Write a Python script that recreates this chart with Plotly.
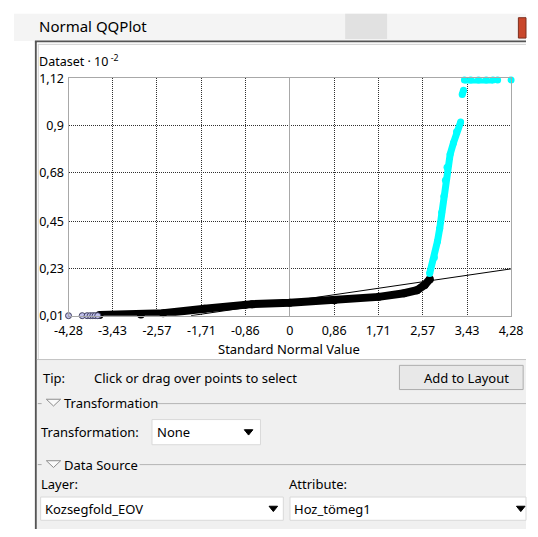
import plotly.graph_objects as go

# ---------------- data ----------------
x_ticks = [-4.28, -3.43, -2.57, -1.71, -0.86, 0, 0.86, 1.71, 2.57, 3.43, 4.28]
x_labels = ["-4,28", "-3,43", "-2,57", "-1,71", "-0,86", "0", "0,86", "1,71", "2,57", "3,43", "4,28"]
y_ticks = [0.01, 0.23, 0.45, 0.68, 0.9, 1.12]
y_labels = ["0,01", "0,23", "0,45", "0,68", "0,9", "1,12"]

# reference line
ref_x = [-1.91, 4.28]
ref_y = [0.01, 0.229]

# low outliers (hollow, selected-style points)
low_x = [-4.28, -4.015, -3.92, -3.86, -3.81, -3.765, -3.715]
low_y = [0.01, 0.01, 0.01, 0.01, 0.01, 0.01, 0.01]

# main body of the distribution (black)
black_x = [-3.68, -2.88, -2.45, -1.65, -0.86, -0.73, 0.0, 0.86, 1.72, 2.21, 2.46, 2.61, 2.71]
black_y = [0.013, 0.015, 0.021, 0.042, 0.061, 0.064, 0.071, 0.082, 0.098, 0.115, 0.129, 0.154, 0.181]

# upper tail (cyan)
cyan_x = [2.705, 2.797, 2.857, 2.90, 2.937, 2.98, 3.01, 3.041, 3.102, 3.165, 3.225, 3.305]
cyan_y = [0.207, 0.282, 0.358, 0.418, 0.493, 0.569, 0.644, 0.705, 0.765, 0.818, 0.871, 0.916]
gap_x = [3.335, 3.36]
gap_y = [1.045, 1.065]
top_x = [3.378, 3.5, 3.65, 3.8, 3.93]
top_y = [1.113, 1.113, 1.113, 1.113, 1.113]
top_single_x = [4.02, 4.28]
top_single_y = [1.113, 1.113]

# ---------------- geometry helpers ----------------
W, H = 538, 537
FONT = "Segoe UI, Noto Sans, Open Sans, sans-serif"


def px(x):
    return x / W


def py(y):
    return 1 - y / H


shapes = []
annotations = []


def rect(x0, y0, x1, y1, fill, line=None, lw=1, layer="below", opacity=1):
    shapes.append(dict(type="rect", xref="paper", yref="paper",
                       x0=px(x0), x1=px(x1), y0=py(y0), y1=py(y1),
                       fillcolor=fill, opacity=opacity,
                       line=dict(color=line or fill, width=lw if line else 0),
                       layer=layer))


def hline(x0, x1, y, color, lw=1, layer="below"):
    shapes.append(dict(type="line", xref="paper", yref="paper",
                       x0=px(x0), x1=px(x1), y0=py(y), y1=py(y),
                       line=dict(color=color, width=lw), layer=layer))


def vline(x, y0, y1, color, lw=1, layer="below"):
    shapes.append(dict(type="line", xref="paper", yref="paper",
                       x0=px(x), x1=px(x), y0=py(y0), y1=py(y1),
                       line=dict(color=color, width=lw), layer=layer))


def tri(x0, x1, ytop, ybot, fill, line, layer="above"):
    xm = (x0 + x1) / 2
    path = "M {a},{b} L {c},{d} L {e},{f} Z".format(
        a=px(x0), b=py(ytop), c=px(x1), d=py(ytop), e=px(xm), f=py(ybot))
    shapes.append(dict(type="path", xref="paper", yref="paper", path=path,
                       fillcolor=fill, line=dict(color=line, width=1), layer=layer))


def text(x, y, s, size=13, anchor="left", color="#000000"):
    annotations.append(dict(xref="paper", yref="paper", x=px(x), y=py(y),
                            text=s, showarrow=False, xanchor=anchor, yanchor="middle",
                            borderpad=0,
                            font=dict(family=FONT, size=size, color=color)))


# window chrome
rect(0, 0, 538, 33, "#f4f4f4")
rect(0, 0, 538, 5, "#ffffff")
rect(348, 5, 392, 31, "#d9d9d9", opacity=0.7)
rect(530, 9, 538, 30, "#c9472b", line="#7d2e1d")
hline(22, 538, 33.5, "#555555", 2)
vline(23, 33, 537, "#555555", 2)

# chart area (white) and lower panel (grey)
rect(24, 34.5, 538, 362, "#ffffff")
hline(25, 538, 36.5, "#d0d0d0", 1)
vline(25.5, 36.5, 362, "#d0d0d0", 1)
rect(24, 362, 538, 537, "#f0f0f0")
hline(24, 538, 362, "#c4c4c4", 1)

# button
rect(405, 368, 535, 393, "#e8e8e8", line="#adadad")

# group separators
hline(25, 29, 407.5, "#a8a8a8")
hline(150, 538, 407.5, "#b4b4b4")
tri(34, 49, 403, 410, "#fafafa", "#8c8c8c")
hline(25, 29, 470.5, "#a8a8a8")
hline(132, 538, 470.5, "#b4b4b4")
tri(34, 49, 466.5, 473.5, "#fafafa", "#8c8c8c")

# combo boxes
rect(145, 424, 259, 450, "#ffffff", line="#d9d9d9")
tri(242, 251, 434.5, 440, "#000000", "#000000")
rect(28, 504, 283, 528, "#ffffff", line="#d9d9d9")
tri(268, 277, 513.5, 519, "#000000", "#000000")
rect(290, 504, 538, 528, "#ffffff", line="#d9d9d9")
tri(528, 537, 513.5, 519, "#000000", "#000000")

# texts
text(25, 18, "Normal QQPlot", size=15)
text(25, 54, "Dataset · 10<sup> -2</sup>", size=12.5)
text(289, 351, "Standard Normal Value")
annotations[-1]["xanchor"] = "center"
text(29, 381, "Tip:")
text(83, 381, "Click or drag over points to select")
text(475, 381, "Add to Layout")
annotations[-1]["xanchor"] = "center"
text(51, 407, "Transformation")
text(27, 437, "Transformation:")
text(149, 437, "None")
text(51, 471, "Data Source")
text(27, 491, "Layer:")
text(288, 491, "Attribute:")
text(31, 516, "Kozsegfold_EOV")
text(293, 516, "Hoz_tömeg1")

# ---------------- traces ----------------
fig = go.Figure()
fig.add_trace(go.Scatter(x=ref_x, y=ref_y, mode="lines",
                         line=dict(color="#000000", width=1), hoverinfo="skip"))
fig.add_trace(go.Scatter(x=black_x, y=black_y, mode="lines+markers",
                         line=dict(color="#000000", width=8),
                         marker=dict(color="#000000", size=8), cliponaxis=False))
fig.add_trace(go.Scatter(x=cyan_x, y=cyan_y, mode="lines+markers",
                         line=dict(color="#00ffff", width=7),
                         marker=dict(color="#00ffff", size=7), cliponaxis=False))
fig.add_trace(go.Scatter(x=gap_x, y=gap_y, mode="lines+markers",
                         line=dict(color="#00ffff", width=7),
                         marker=dict(color="#00ffff", size=7), cliponaxis=False))
fig.add_trace(go.Scatter(x=top_x, y=top_y, mode="lines+markers",
                         line=dict(color="#00ffff", width=7),
                         marker=dict(color="#00ffff", size=7), cliponaxis=False))
fig.add_trace(go.Scatter(x=top_single_x, y=top_single_y, mode="markers",
                         marker=dict(color="#00ffff", size=7), cliponaxis=False))
fig.add_trace(go.Scatter(x=low_x, y=low_y, mode="markers",
                         marker=dict(color="#c0c0ec", size=6,
                                     line=dict(color="#404060", width=1)),
                         cliponaxis=False))

axis_common = dict(showgrid=True, gridcolor="#303030", griddash="1px,1px", gridwidth=1,
                   showline=True, mirror=True, linecolor="#a8a8a8", linewidth=1,
                   ticks="", tickfont=dict(family=FONT, size=12.5, color="#000000"),
                   fixedrange=True)

fig.update_layout(
    width=W, height=H,
    margin=dict(l=0, r=0, t=0, b=0),
    paper_bgcolor="#ffffff",
    plot_bgcolor="rgba(0,0,0,0)",
    showlegend=False,
    shapes=shapes,
    annotations=annotations,
    xaxis=dict(range=[-4.28, 4.28], domain=[px(57.3), px(522.3)],
               tickvals=x_ticks, ticktext=x_labels,
               zeroline=True, zerolinecolor="#a8a8a8", zerolinewidth=1,
               ticklabelstandoff=3,
               **axis_common),
    yaxis=dict(range=[0.01, 1.12], domain=[py(316.7), py(71.7)],
               tickvals=y_ticks, ticktext=y_labels, zeroline=False,
               ticklabelstandoff=1,
               **axis_common),
)

fig.write_html("out.html", config=dict(displayModeBar=False),
               post_script="document.body.style.margin='0';"
                           "document.body.style.padding='0';"
                           "document.documentElement.style.overflow='hidden';")
